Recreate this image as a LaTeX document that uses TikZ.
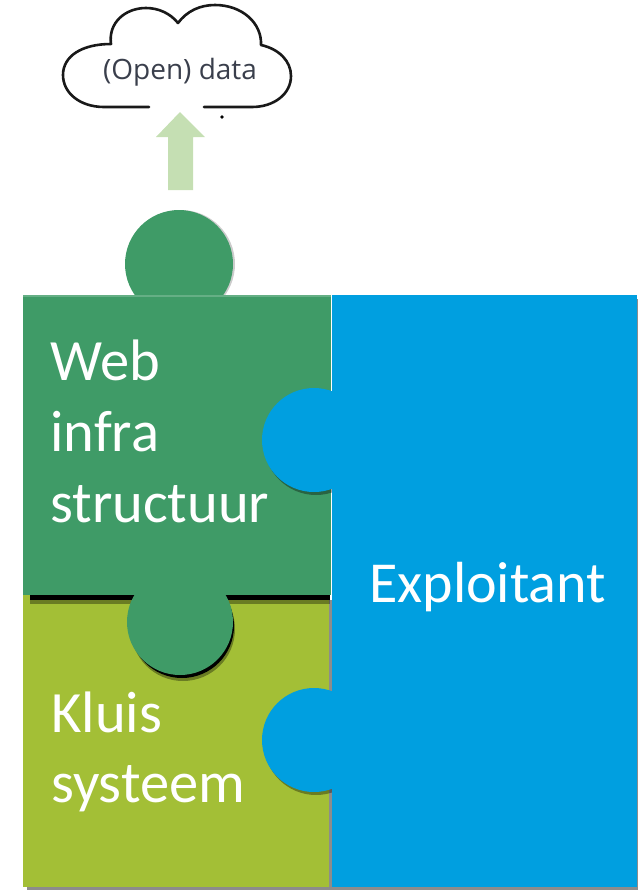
\documentclass[tikz,border=0pt]{standalone}
\usepackage{fontspec}
\setmainfont{Carlito}
\newfontfamily\cloudfont{Open Sans}
\definecolor{webgreen}{HTML}{3F9B67}
\definecolor{kluisgreen}{HTML}{A3BF36}
\definecolor{exploitblue}{HTML}{009FE0}
\definecolor{arrowgreen}{HTML}{C5DFB3}
\definecolor{clouddark}{HTML}{3A3F4C}
\tikzset{
  piecetext/.style={text=white,anchor=base west,inner sep=0pt,font=\fontsize{58.5}{58.5}\selectfont},
  dropshade/.style={fill=black,draw=none},
  softshade/.style={fill=black,opacity=0.35,draw=none},
}
\begin{document}
\begin{tikzpicture}
\pgfsetxvec{\pgfpoint{1pt}{0}}
\pgfsetyvec{\pgfpoint{0}{-1pt}}
  \useasboundingbox (0,0) rectangle (641,892);
  % cloud
  \draw[line width=2.6pt,line cap=round,line join=round,black!90] (149,107)--(104,107)
    .. controls (80,107) and (63,93) .. (63,75)
    .. controls (63,56) and (82,44) .. (111,44)
    .. controls (108,22) and (126,8) .. (146,8)
    .. controls (158,8) and (170,13) .. (178,23)
    .. controls (187,11) and (200,5) .. (215,5)
    .. controls (242,5) and (262,23) .. (261,45)
    .. controls (279,49) and (291,61) .. (291,76)
    .. controls (291,94) and (274,107) .. (252,107)--(204,107);
  \node[inner sep=0pt,text=clouddark,font=\cloudfont\fontsize{28}{28}\selectfont] (clouddata) at (180,72) {(Open) data};
  \fill[black] (222,117) circle (1.8);
  % arrow
  \fill[arrowgreen] (168,190)--(168,137)--(156,137)--(180,112)--(205,137)--(193,137)--(193,190)--cycle;
  % grey edges
  \fill[black!45] (27,600) rectangle (638,890);
  \fill[black!45] (336,299) rectangle (638,890);
  % kluis
  \fill[kluisgreen] (23,595) rectangle (329,887);
  % shadow of web piece
  \fill[softshade] (30,598) rectangle (330,604);
  \fill[softshade] (183,629) circle (52);
  \fill[dropshade] (30,595) rectangle (330,600);
  \fill[dropshade] (182,626) circle (52);
  % web
  \fill[black!20] (181,264) circle (54);
  \fill[webgreen] (179,264) circle (54);
  \fill[webgreen] (23,295) rectangle (331,595);
  \fill[webgreen] (180,622) circle (53);
  \fill[webgreen!80!white] (23,295) rectangle (331,297);
  % exploitant
  \fill[softshade] (316,443) circle (52);
  \fill[softshade] (316,743) circle (52);
  \fill[exploitblue] (314,440) circle (52);
  \fill[exploitblue] (314,740) circle (52);
  \fill[exploitblue] (332,295) rectangle (637,887);
  % labels
  \node[piecetext] (webA) at (50,380) {Web};
  \node[piecetext] (webB) at (50,451) {infra};
  \node[piecetext] (webC) at (50,522) {structuur};
  \node[piecetext] (kluisA) at (51,732) {Kluis};
  \node[piecetext] (kluisB) at (51,802) {systeem};
  \node[piecetext,font=\fontsize{58}{58}\selectfont] (exploit) at (369,602) {Exploitant};
\end{tikzpicture}
\end{document}
